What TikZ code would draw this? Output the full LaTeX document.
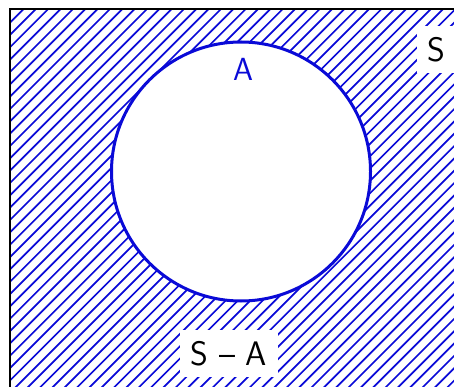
\documentclass[tikz,border=0pt]{standalone}
\usepackage{fontspec}
\definecolor{setblue}{RGB}{10,10,215}
\begin{document}
\begin{tikzpicture}[x=1pt,y=-1pt,
  hatch/.style={setblue, line width=1.7pt},
  frame/.style={black, line width=2pt},
  setcircle/.style={circle, draw=setblue, line width=3pt, fill=white, minimum size=259pt, inner sep=0pt},
  setlabel/.style={font=\sffamily\fontsize{32}{34}\selectfont, text=setblue},
  difflabel/.style={fill=white, font=\sffamily\fontsize{34}{36}\selectfont, minimum width=98pt, minimum height=47pt, inner sep=0pt}]
\useasboundingbox (0,0) rectangle (454,387);
\clip (0,0) rectangle (454,387);
\begin{scope}
  \clip (10,9) rectangle (480,420);
  \foreach \k in {-20,...,75} {
    \draw[hatch] ({217.7+\k*12.34+20},-20) -- ({217.7+\k*12.34-600},600);
  }
\end{scope}
\draw[frame] (10,9) rectangle (480,420);
\node[setcircle] (A) at (241,171.5) {};
\node[setlabel] (lA) at (243,69) {A};
\node[difflabel] (sa1) at (229,353.5) {S -- A};
\node[difflabel] (sa2) at (466,49.5) {S -- A};
\end{tikzpicture}
\end{document}
